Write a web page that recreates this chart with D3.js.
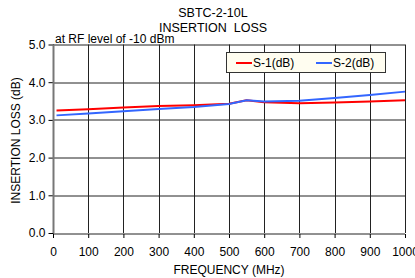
<!DOCTYPE html>
<html>
<head>
<meta charset="utf-8">
<script src="https://cdn.jsdelivr.net/npm/d3@7"></script>
<style>
  body { margin: 0; background: #fff; }
  text { font-family: "Liberation Sans", Arial, sans-serif; fill: #000; }
</style>
</head>
<body>
<svg id="chart"></svg>
<script>
const freq = [10, 100, 200, 300, 400, 500, 550, 600, 700, 800, 900, 1000];
const s1 = [3.25, 3.28, 3.33, 3.37, 3.39, 3.43, 3.52, 3.47, 3.44, 3.46, 3.49, 3.52];
const s2 = [3.12, 3.17, 3.23, 3.29, 3.34, 3.42, 3.52, 3.49, 3.51, 3.58, 3.66, 3.75];
const xTicks = [0, 100, 200, 300, 400, 500, 600, 700, 800, 900, 1000];
const yTicks = [0, 1, 2, 3, 4, 5];
const seriesNames = ["S-1(dB)", "S-2(dB)"];
const seriesColors = ["#ff0000", "#3366ff"];

const width = 415, height = 278;
const margin = {top: 44.5, right: 10, bottom: 45, left: 53};

const svg = d3.select("#chart").attr("width", width).attr("height", height);

const x = d3.scaleLinear().domain([0, 1000]).range([0, 352]);
const y = d3.scaleLinear().domain([0, 5]).range([188.5, 0]);

const g = svg.append("g").attr("transform", "translate(" + margin.left + "," + margin.top + ")");

// grid
g.selectAll(".vgrid").data(xTicks).enter().append("line")
  .attr("x1", d => Math.round(x(d)) + 0.5).attr("x2", d => Math.round(x(d)) + 0.5)
  .attr("y1", 0).attr("y2", y(0))
  .attr("stroke", "#222").attr("stroke-width", 1);
g.selectAll(".hgrid").data(yTicks).enter().append("line")
  .attr("x1", 0).attr("x2", x(1000))
  .attr("y1", d => Math.round(y(d)) + 0.5).attr("y2", d => Math.round(y(d)) + 0.5)
  .attr("stroke", "#222").attr("stroke-width", 1);

// axes
const xAxis = g.append("g").attr("transform", "translate(0," + (Math.round(y(0)) + 0.5) + ")")
  .call(d3.axisBottom(x).tickValues(xTicks).tickSize(4).tickPadding(9).tickFormat(d3.format("d")));
const yAxis = g.append("g").attr("transform", "translate(0.5,0)")
  .call(d3.axisLeft(y).tickValues(yTicks).tickSize(5).tickPadding(3).tickFormat(d3.format(".1f")));
[xAxis, yAxis].forEach(a => {
  a.select(".domain").remove();
  a.selectAll("line").attr("stroke", "#000");
  a.selectAll("text").style("font-size", "12px").style("font-family", "Liberation Sans, Arial, sans-serif");
});
g.append("line").attr("x1", 0.5).attr("x2", 0.5).attr("y1", 0).attr("y2", y(0))
  .attr("stroke", "#777").attr("stroke-width", 2);

// lines
const line = d3.line().x((d, i) => x(freq[i])).y(d => y(d));
[s1, s2].forEach((s, k) => {
  g.append("path").datum(s).attr("fill", "none")
    .attr("stroke", seriesColors[k]).attr("stroke-width", 2).attr("d", line);
});

// titles
svg.append("text").attr("x", 213).attr("y", 17).attr("text-anchor", "middle")
  .style("font-size", "12.5px").text("SBTC-2-10L");
svg.append("text").attr("x", 213).attr("y", 32).attr("text-anchor", "middle")
  .style("font-size", "12.5px").style("white-space", "pre").text("INSERTION  LOSS");
svg.append("text").attr("x", 55).attr("y", 43)
  .style("font-size", "12px").text("at RF level of -10 dBm");
svg.append("text").attr("x", 229).attr("y", 274).attr("text-anchor", "middle")
  .style("font-size", "12px").text("FREQUENCY (MHz)");
svg.append("text").attr("transform", "translate(20," + (margin.top + 96) + ") rotate(-90)")
  .attr("text-anchor", "middle").style("font-size", "12px").text("INSERTION LOSS (dB)");

// legend
const leg = svg.append("g").attr("transform", "translate(226,52)");
leg.append("rect").attr("x", 0.5).attr("y", 0.5).attr("width", 159).attr("height", 20)
  .attr("fill", "#fffdf0").attr("stroke", "#333").attr("stroke-width", 1);
seriesNames.forEach((n, k) => {
  const ox = k * 80;
  leg.append("line").attr("x1", ox + 10).attr("x2", ox + 26).attr("y1", 11).attr("y2", 11)
    .attr("stroke", seriesColors[k]).attr("stroke-width", 2);
  leg.append("text").attr("x", ox + 27).attr("y", 15).style("font-size", "12px").text(n);
});
</script>
</body>
</html>
